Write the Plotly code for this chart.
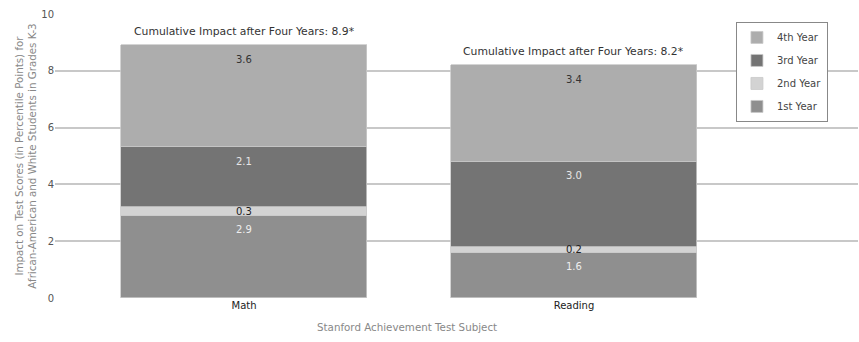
import plotly.graph_objects as go

subjects = ["Math", "Reading"]
years = ["1st Year", "2nd Year", "3rd Year", "4th Year"]
values = {
    "1st Year": [2.9, 1.6],
    "2nd Year": [0.3, 0.2],
    "3rd Year": [2.1, 3.0],
    "4th Year": [3.6, 3.4],
}
totals = [8.9, 8.2]
colors = {
    "1st Year": "#8f8f8f",
    "2nd Year": "#d3d3d3",
    "3rd Year": "#747474",
    "4th Year": "#adadad",
}
label_colors = {
    "1st Year": "#eeeeee",
    "2nd Year": "#222222",
    "3rd Year": "#e6e6e6",
    "4th Year": "#333333",
}
FONT = "DejaVu Sans"

fig = go.Figure()
for i, y in enumerate(years):
    fig.add_trace(go.Bar(
        x=list(range(len(subjects))), y=values[y], name=y, legendgroup=y,
        legendrank=len(years) - i,
        marker=dict(color=colors[y], line=dict(color="#c9c9c9", width=0.8)),
        width=0.745, hoverinfo="skip",
    ))

annotations = []
cum = [0.0] * len(subjects)
for y in years:
    for j in range(len(subjects)):
        v = values[y][j]
        if y == "2nd Year":
            ay, ys = cum[j] + v / 2, 0
        else:
            ay, ys = cum[j] + v, -14
        annotations.append(dict(
            x=j, y=ay, yshift=ys, text=f"{v:.1f}", showarrow=False,
            font=dict(family=FONT, size=10, color=label_colors[y]),
            xref="x", yref="y",
        ))
        cum[j] += v

for j, t in enumerate(totals):
    annotations.append(dict(
        x=j, y=t, yshift=14, text=f"Cumulative Impact after Four Years: {t:.1f}*",
        showarrow=False, xref="x", yref="y",
        font=dict(family=FONT, size=10.8, color="#333333"),
    ))

annotations.append(dict(
    x=0.438, y=0, xref="paper", yref="paper", yshift=-29,
    text="Stanford Achievement Test Subject", showarrow=False,
    xanchor="center", yanchor="middle",
    font=dict(family=FONT, size=10.3, color="#888888"),
))

fig.update_layout(
    width=859, height=342,
    margin=dict(l=55, r=1, t=14, b=44),
    barmode="stack",
    bargap=0,
    plot_bgcolor="white", paper_bgcolor="white",
    font=dict(family=FONT, size=10, color="#555555"),
    showlegend=True,
    legend=dict(
        x=0.848, y=0.972, xanchor="left", yanchor="top",
        traceorder="grouped", tracegroupgap=4,
        bordercolor="#888888", borderwidth=1, bgcolor="white",
        font=dict(family=FONT, size=10, color="#444444"),
        itemwidth=30,
    ),
    annotations=annotations,
    xaxis=dict(
        range=[-0.573, 1.861],
        tickvals=list(range(len(subjects))), ticktext=subjects,
        tickfont=dict(family=FONT, size=10, color="#222222"),
        showgrid=False, zeroline=False, showline=False, ticks="",
    ),
    yaxis=dict(
        range=[0, 10], dtick=2,
        showgrid=True, gridcolor="#c8c8c8", gridwidth=2,
        zeroline=False, showline=False, ticks="",
        tickfont=dict(family=FONT, size=10, color="#555555"),
        title=dict(text="Impact on Test Scores (in Percentile Points) for<br>African-American and White Students in Grades K-3",
                   standoff=2, font=dict(family=FONT, size=10.3, color="#888888")),
    ),
)

fig.write_html("out.html")
